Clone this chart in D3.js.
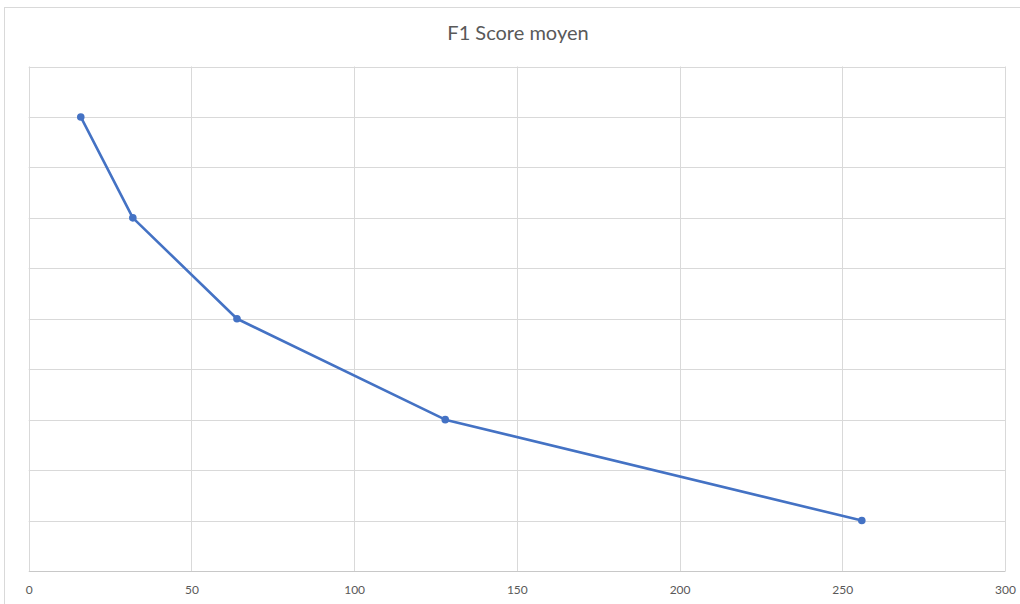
<!DOCTYPE html>
<html lang="fr">
<head>
<meta charset="utf-8">
<title>F1 Score moyen</title>
<script src="https://cdn.jsdelivr.net/npm/d3@7/dist/d3.min.js"></script>
<style>
  body { margin: 0; background: #fff; }
  .title { font-family: Lato, "Open Sans", sans-serif; font-size: 20px; fill: #595959; text-anchor: middle; }
  .axis text { font-family: Lato, "Open Sans", sans-serif; font-size: 12px; fill: #595959; }
  .grid line { stroke: #d9d9d9; stroke-width: 1; }
</style>
</head>
<body>
<svg width="1020" height="604"></svg>
<script>
// data
var xValues = [16, 32, 64, 128, 256];
var yValues = [9, 7, 5, 3, 1];
var xTicks = [0, 50, 100, 150, 200, 250, 300];
var yTicks = [0, 1, 2, 3, 4, 5, 6, 7, 8, 9, 10];

var svg = d3.select("svg");
var plotLeft = 28.7, plotRight = 1005, plotTop = 66.5, plotBottom = 571;

// outer chart frame
svg.append("rect")
  .attr("x", 4.5).attr("y", 7.5)
  .attr("width", 1030).attr("height", 620)
  .attr("fill", "#fff").attr("stroke", "#d9d9d9");

svg.append("text").attr("class", "title")
  .attr("x", 518).attr("y", 40)
  .text("F1 Score moyen");

var x = d3.scaleLinear().domain([0, 300]).range([plotLeft, plotRight]);
var y = d3.scaleLinear().domain([0, 10]).range([plotBottom, plotTop]);

var grid = svg.append("g").attr("class", "grid");
grid.selectAll(".v").data(xTicks).enter().append("line")
  .attr("x1", function(d) { return Math.round(x(d)) + 0.5; })
  .attr("x2", function(d) { return Math.round(x(d)) + 0.5; })
  .attr("y1", plotTop).attr("y2", plotBottom);
grid.selectAll(".h").data(yTicks).enter().append("line")
  .attr("y1", function(d) { return Math.round(y(d)) + 0.5; })
  .attr("y2", function(d) { return Math.round(y(d)) + 0.5; })
  .attr("x1", plotLeft).attr("x2", plotRight);

// bottom axis, labels only
var xAxis = svg.append("g").attr("class", "axis")
  .attr("transform", "translate(0," + plotBottom + ")")
  .call(d3.axisBottom(x).tickValues(xTicks).tickSize(0).tickPadding(14));
xAxis.select(".domain").attr("stroke", "#c8c8c8");

var line = d3.line()
  .x(function(d, i) { return x(xValues[i]); })
  .y(function(d) { return y(d); });

svg.append("path").datum(yValues)
  .attr("d", line)
  .attr("fill", "none")
  .attr("stroke", "#4472c4")
  .attr("stroke-width", 2.6)
  .attr("stroke-linejoin", "round");

svg.selectAll(".dot").data(yValues).enter().append("circle")
  .attr("cx", function(d, i) { return x(xValues[i]); })
  .attr("cy", function(d) { return y(d); })
  .attr("r", 3.8)
  .attr("fill", "#4472c4");
</script>
</body>
</html>
